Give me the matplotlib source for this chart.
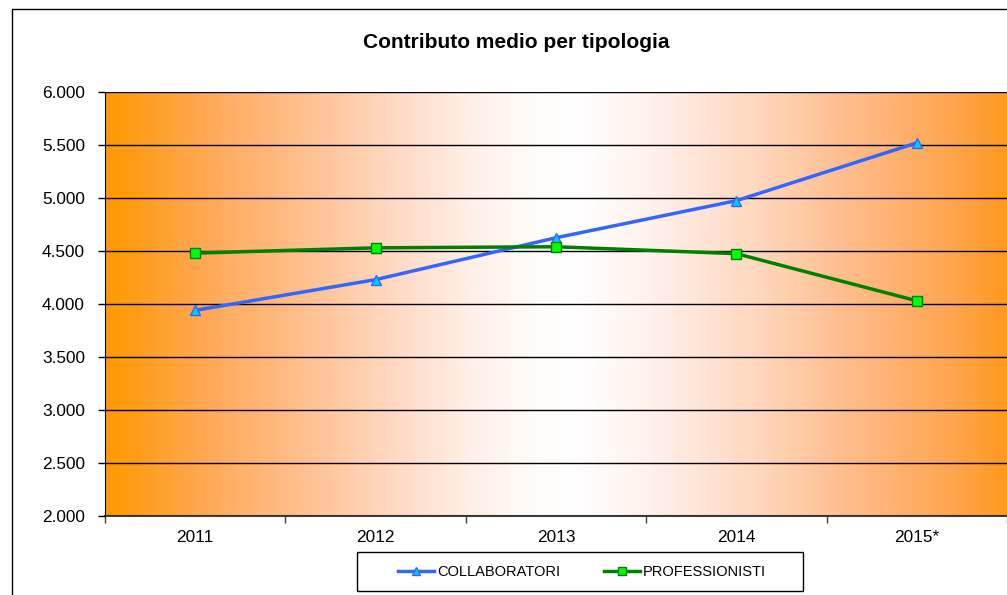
import numpy as np
import matplotlib
matplotlib.use("Agg")
import matplotlib.pyplot as plt
from matplotlib.colors import LinearSegmentedColormap
from matplotlib.patches import Rectangle
from matplotlib.ticker import FuncFormatter, FixedLocator

years = ["2011", "2012", "2013", "2014", "2015*"]
collaboratori = [3940, 4230, 4625, 4975, 5520]
professionisti = [4480, 4530, 4540, 4475, 4030]
title = "Contributo medio per tipologia"

plt.rcParams['font.family'] = ['Liberation Sans', 'DejaVu Sans']

fig = plt.figure(figsize=(10.07, 5.95), dpi=100)
fig.patch.set_facecolor('white')

# outer chart frame
fig.patches.append(Rectangle((12/1007, -0.05), 1.2, 1 - 9/595 + 0.05,
                             transform=fig.transFigure, fill=False,
                             edgecolor='black', lw=1.0, zorder=0))

ax = fig.add_axes([105/1007, 1 - 516/595, 1 - 105/1007, (516 - 92)/595])

# gradient background
stops = [(0.0, '#FF9900'), (0.11, '#FFA855'), (0.22, '#FFC090'), (0.33, '#FFDCC8'),
         (0.41, '#FFF0E8'), (0.48, '#FFFCFA'), (0.525, '#FFFFFF'),
         (0.61, '#FFF0EA'), (0.72, '#FFD8C0'), (0.83, '#FFBB88'),
         (0.94, '#FFA550'), (1.0, '#FF9920')]
cmap = LinearSegmentedColormap.from_list('og', stops)
grad = np.linspace(0, 1, 1024).reshape(1, -1)
ax.imshow(grad, cmap=cmap, aspect='auto', extent=[0, 1, 0, 1],
          transform=ax.transAxes, zorder=0, interpolation='bilinear')

x = np.arange(len(years))
ax.plot(x, collaboratori, color='#3366FF', lw=2.5, marker='^', ms=7.5,
        markerfacecolor='#00CCFF', markeredgecolor='#3366FF', markeredgewidth=1,
        label='COLLABORATORI', zorder=3)
ax.plot(x, professionisti, color='#008000', lw=2.5, marker='s', ms=7,
        markerfacecolor='#00FF00', markeredgecolor='#008000', markeredgewidth=1,
        label='PROFESSIONISTI', zorder=4)

ax.set_xlim(-0.5, len(years) - 0.5)
ax.set_ylim(2000, 6000)
ax.set_yticks(np.arange(2000, 6001, 500))
ax.yaxis.set_major_formatter(FuncFormatter(lambda v, p: f"{int(v):,}".replace(',', '.')))
ax.grid(axis='y', color='black', lw=1, zorder=1)
ax.set_axisbelow(False)

ax.set_xticks(x)
ax.set_xticklabels(years)
ax.xaxis.set_minor_locator(FixedLocator(np.arange(-0.5, len(years), 1.0)))
ax.tick_params(axis='x', which='major', length=0, pad=10, labelsize=12.4)
ax.tick_params(axis='x', which='minor', length=5, width=1, color='#404040')
ax.tick_params(axis='y', length=5, width=1, labelsize=12.4, pad=9.5)

for s in ['top', 'right']:
    ax.spines[s].set_visible(False)
ax.spines['left'].set_color('black')
ax.spines['bottom'].set_color('#404040')
ax.spines['bottom'].set_linewidth(1.5)

fig.text(516/1007, 1 - 43/595, title, ha='center', va='center',
         fontsize=15, fontweight='bold')

# legend box
fig.patches.append(Rectangle((357/1007, 1 - 591/595), (803 - 357)/1007, 39/595,
                             transform=fig.transFigure, facecolor='white',
                             edgecolor='black', lw=1.0, zorder=5))
leg = fig.legend(loc='center', bbox_to_anchor=(582/1007, 1 - 572/595),
                 ncol=2, frameon=False, fontsize=10.5,
                 handlelength=2.5, markerscale=0.75, columnspacing=3.0,
                 borderpad=0.3, handletextpad=0.2)
leg.set_zorder(6)

fig.savefig('out.png', dpi=100)
